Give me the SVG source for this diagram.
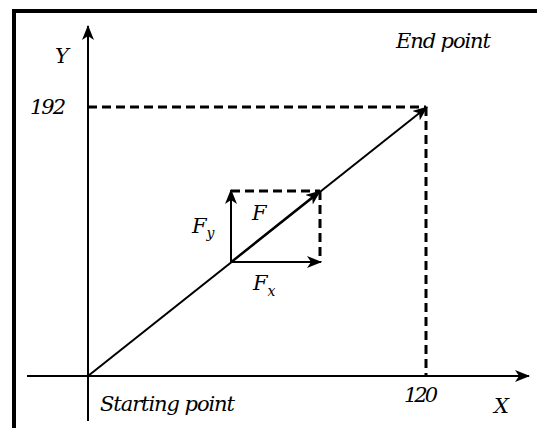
<svg xmlns="http://www.w3.org/2000/svg" width="537" height="428" viewBox="0 0 537 428">
<style>
.ln{stroke:#000;stroke-width:2;fill:none}
.ds{stroke:#000;stroke-width:3;fill:none;stroke-dasharray:9 5}
.bd{stroke:#000;stroke-width:4;fill:none}
.t{font-family:"DejaVu Serif","Liberation Serif",serif;font-style:italic;font-size:21px;fill:#000}
.sub{font-size:14px}
</style>
<defs>
<marker id="ah" viewBox="0 0 15 12" refX="14" refY="6" markerWidth="15" markerHeight="12" markerUnits="userSpaceOnUse" orient="auto">
<path d="M0,0 L15,6 L0,12 L4,6 Z" fill="#000"/>
</marker>
</defs>
<rect width="537" height="428" fill="#fff"/>
<g id="frame">
<path class="bd" d="M14,428 V11 H537"/>
</g>
<g id="connectors">
<line class="ln" x1="88" y1="421" x2="88" y2="26" marker-end="url(#ah)"/>
<line class="ln" x1="27" y1="376" x2="529" y2="376" marker-end="url(#ah)"/>
<line class="ds" x1="88" y1="107" x2="426" y2="107"/>
<line class="ds" x1="426" y1="107" x2="426" y2="376"/>
<line class="ln" x1="88" y1="376" x2="427" y2="107" marker-end="url(#ah)"/>
<line class="ds" x1="231" y1="191" x2="320" y2="191"/>
<line class="ds" x1="320" y1="191" x2="320" y2="262"/>
<line class="ln" x1="231" y1="262" x2="231" y2="190" marker-end="url(#ah)"/>
<line class="ln" x1="231" y1="262" x2="321" y2="262" marker-end="url(#ah)"/>
<line class="ln" x1="231" y1="262" x2="320" y2="191" marker-end="url(#ah)"/>
</g>
<g id="labels">
<text class="t" x="55" y="63">Y</text>
<text class="t" x="30" y="114" textLength="36">192</text>
<text class="t" x="396" y="48" textLength="95">End point</text>
<text class="t" x="100" y="411" textLength="135">Starting point</text>
<text class="t" x="404" y="402" textLength="34">120</text>
<text class="t" x="494" y="413">X</text>
<text class="t" x="192" y="233">F<tspan class="sub" dy="5">y</tspan></text>
<text class="t" x="252" y="220">F</text>
<text class="t" x="253" y="290">F<tspan class="sub" dy="6">x</tspan></text>
</g>
</svg>
